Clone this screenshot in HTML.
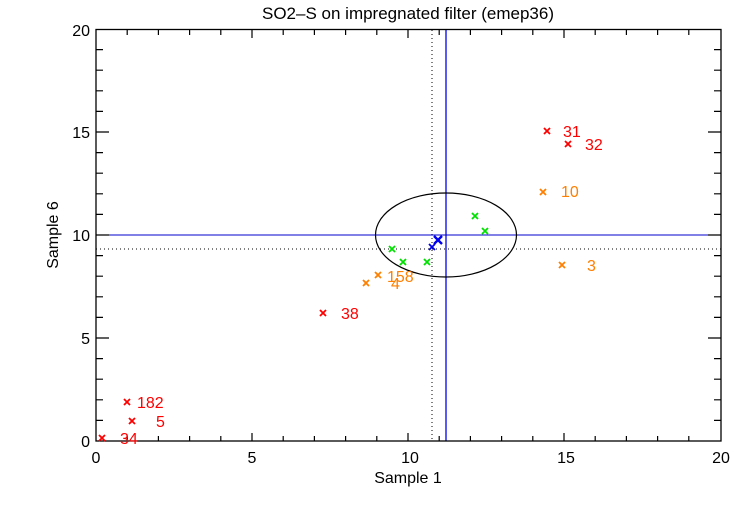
<!DOCTYPE html>
<html><head><meta charset="utf-8"><style>
html,body{margin:0;padding:0;background:#fff;}
svg text{font-family:"Liberation Sans",sans-serif;}
</style></head><body>
<svg width="750" height="500" viewBox="0 0 750 500" xmlns="http://www.w3.org/2000/svg">
<rect width="750" height="500" fill="#fff"/>
<text x="408" y="19" font-size="17" text-anchor="middle" fill="#000">SO2–S on impregnated filter (emep36)</text>
<!-- reference lines -->
<line x1="432" y1="30" x2="432" y2="441" stroke="#000" stroke-width="1" stroke-dasharray="1,3"/>
<line x1="96" y1="249" x2="721" y2="249" stroke="#000" stroke-width="1" stroke-dasharray="1,3"/>
<line x1="446" y1="30" x2="446" y2="441" stroke="#0000ee" stroke-width="1.3"/>
<line x1="96" y1="235" x2="721" y2="235" stroke="#0000cc" stroke-width="1"/>
<ellipse cx="446" cy="235" rx="70.5" ry="42" fill="none" stroke="#000" stroke-width="1.2"/>
<!-- axes box -->
<rect x="96" y="29.5" width="625" height="411.5" fill="none" stroke="#000" stroke-width="1.3"/>
<g stroke="#000" stroke-width="1.2" id="ticks">
<!-- x ticks -->
<path d="
M127.2 441v-5M158.4 441v-5M189.6 441v-5M220.8 441v-5M252 441v-8
M283.2 441v-5M314.4 441v-5M345.6 441v-5M376.8 441v-5M408 441v-8
M439.2 441v-5M470.4 441v-5M501.6 441v-5M532.8 441v-5M564 441v-8
M595.2 441v-5M626.4 441v-5M657.6 441v-5M688.8 441v-5
M127.2 30v5M158.4 30v5M189.6 30v5M220.8 30v5M252 30v8
M283.2 30v5M314.4 30v5M345.6 30v5M376.8 30v5M408 30v8
M439.2 30v5M470.4 30v5M501.6 30v5M532.8 30v5M564 30v8
M595.2 30v5M626.4 30v5M657.6 30v5M688.8 30v5
"/>
<!-- y ticks -->
<path d="
M96 420.4h7M96 399.8h7M96 379.2h7M96 358.6h7M96 338h13
M96 317.4h7M96 296.8h7M96 276.2h7M96 255.6h7M96 235h13
M96 214.4h7M96 193.8h7M96 173.2h7M96 152.6h7M96 132h13
M96 111.4h7M96 90.8h7M96 70.2h7M96 49.6h7
M721 420.4h-7M721 399.8h-7M721 379.2h-7M721 358.6h-7M721 338h-13
M721 317.4h-7M721 296.8h-7M721 276.2h-7M721 255.6h-7M721 235h-13
M721 214.4h-7M721 193.8h-7M721 173.2h-7M721 152.6h-7M721 132h-13
M721 111.4h-7M721 90.8h-7M721 70.2h-7M721 49.6h-7
"/>
</g>
<g font-size="16" fill="#000">
<text x="96" y="463" text-anchor="middle">0</text>
<text x="252" y="463" text-anchor="middle">5</text>
<text x="410" y="463" text-anchor="middle">10</text>
<text x="566" y="463" text-anchor="middle">15</text>
<text x="721" y="463" text-anchor="middle">20</text>
<text x="90" y="447" text-anchor="end">0</text>
<text x="90" y="344" text-anchor="end">5</text>
<text x="90" y="241" text-anchor="end">10</text>
<text x="90" y="138" text-anchor="end">15</text>
<text x="90" y="36" text-anchor="end">20</text>
<text x="408" y="483" text-anchor="middle">Sample 1</text>
<text transform="translate(58,235) rotate(-90)" text-anchor="middle">Sample 6</text>
</g>
<!-- markers -->
<defs>
<path id="m" d="M-3 -3L3 3M-3 3L3 -3" stroke-width="1.8"/>
<path id="mb" d="M-4 -4L4 4M-4 4L4 -4" stroke-width="2.4"/>
</defs>
<g stroke="#ff0000" fill="#ff0000">
<use href="#m" x="547" y="131"/><use href="#m" x="568" y="144"/>
<use href="#m" x="323" y="313"/><use href="#m" x="127" y="402"/>
<use href="#m" x="132" y="421"/><use href="#m" x="102" y="438"/>
</g>
<g stroke="#ff7f00">
<use href="#m" x="543" y="192"/><use href="#m" x="562" y="265"/>
<use href="#m" x="378" y="275"/><use href="#m" x="366" y="283"/>
</g>
<g stroke="#00e000">
<use href="#m" x="475" y="216"/><use href="#m" x="485" y="231"/>
<use href="#m" x="392" y="249"/><use href="#m" x="403" y="262"/>
<use href="#m" x="427" y="262"/>
</g>
<g stroke="#0000ee">
<use href="#mb" x="438" y="240"/><use href="#m" x="432" y="247"/>
</g>
<g font-size="16" fill="#ff0000">
<text x="563" y="137">31</text>
<text x="585" y="150">32</text>
<text x="341" y="319">38</text>
<text x="137" y="408">182</text>
<text x="156" y="427">5</text>
<text x="120" y="444">34</text>
</g>
<g font-size="16" fill="#ff7f00">
<text x="561" y="197">10</text>
<text x="587" y="271">3</text>
<text x="387" y="282">158</text>
<text x="391" y="289">4</text>
</g>
</svg>
</body></html>
